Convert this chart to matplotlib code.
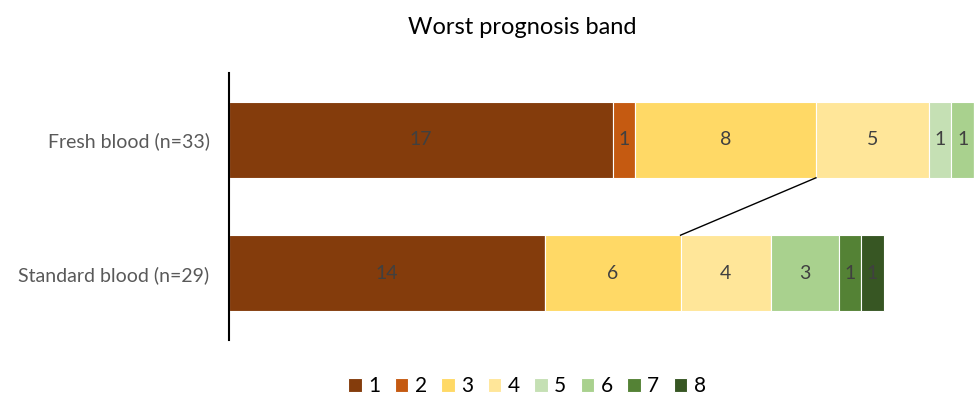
import numpy as np
import matplotlib.pyplot as plt

plt.rcParams['font.family'] = ['Lato', 'DejaVu Sans']

groups = ["Standard blood (n=29)", "Fresh blood (n=33)"]
bands = ["1", "2", "3", "4", "5", "6", "7", "8"]
standard = [14, 0, 6, 4, 0, 3, 1, 1]
fresh = [17, 1, 8, 5, 1, 1, 0, 0]
colors = ["#843C0C", "#C55A11", "#FFD966", "#FFE699",
          "#C5E0B4", "#A9D18E", "#548235", "#375623"]

counts = np.array([standard, fresh])
y = np.arange(len(groups))
bar_h = 0.57

fig = plt.figure(figsize=(9.74, 3.95), dpi=100)
ax = fig.add_axes([229 / 974, 1 - 340 / 395, 745 / 974, 267 / 395])

left = np.zeros(len(groups))
for i, band in enumerate(bands):
    vals = counts[:, i]
    ax.barh(y, vals, left=left, height=bar_h, color=colors[i],
            edgecolor="white", linewidth=0.8, label=band)
    for j, v in enumerate(vals):
        if v > 0:
            ax.text(left[j] + v / 2, y[j], str(v), ha="center", va="center",
                    fontsize=14, color="#404040")
    left += vals

# series line between the ends of band 3
cum = counts.cumsum(axis=1)
ax.plot([cum[1, 2], cum[0, 2]], [y[1] - bar_h / 2, y[0] + bar_h / 2],
        color="black", linewidth=1)

ax.set_xlim(0, 33)
ax.set_ylim(-0.5, 1.5)
ax.set_yticks(y)
ax.set_yticklabels(groups, fontsize=14, color="#595959")
ax.tick_params(axis="y", length=0, pad=14)
ax.set_xticks([])
for s in ["top", "right", "bottom"]:
    ax.spines[s].set_visible(False)
ax.spines["left"].set_linewidth(1.5)

fig.text(522 / 974, 1 - 28 / 395, "Worst prognosis band", ha="center",
         va="center", fontsize=17, color="black")

fig.legend(loc="center", bbox_to_anchor=(527 / 974, 1 - 386 / 395), ncol=8,
           frameon=False, fontsize=15, handlelength=0.65, handleheight=0.65,
           handletextpad=0.3, columnspacing=0.7)

fig.savefig("out.png", dpi=100)
